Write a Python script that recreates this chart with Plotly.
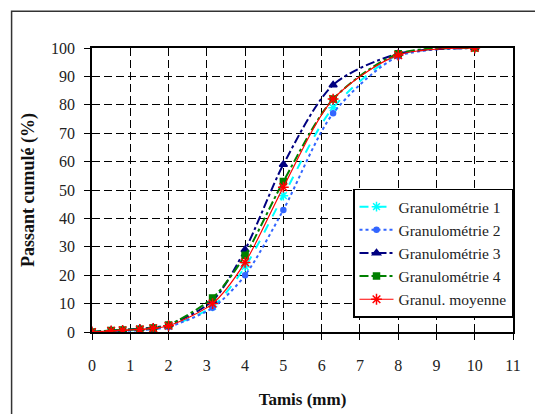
import plotly.graph_objects as go

sieves = [0, 0.5, 0.8, 1.25, 1.6, 2, 3.15, 4, 5, 6.3, 8, 10]
g1 = [0, 0.3, 0.5, 0.8, 1.2, 2.0, 9.0, 23.0, 48.0, 79.0, 97.5, 100]
g2 = [0, 0.2, 0.4, 0.6, 1.0, 1.8, 8.5, 20.0, 43.0, 77.0, 97.0, 100]
g3 = [0, 0.5, 0.8, 1.2, 1.6, 2.5, 11.0, 29.0, 59.0, 87.0, 98.0, 100]
g4 = [0, 0.5, 0.7, 1.0, 1.4, 2.5, 12.0, 27.0, 53.0, 82.0, 98.0, 100]
gm = [0, 0.4, 0.6, 0.9, 1.3, 2.2, 10.0, 24.5, 51.0, 82.0, 97.5, 100]

names = ["Granulométrie 1", "Granulométrie 2", "Granulométrie 3",
         "Granulométrie 4", "Granul. moyenne"]
series = [g1, g2, g3, g4, gm]
colors = ["#00FFFF", "#3366FF", "#000080", "#008000", "#FF0000"]
dashes = ["dash", "dot", "dashdot", "dashdot", "solid"]
widths = [2, 2, 2, 2, 1.2]
symbols = ["asterisk-open", "circle", "triangle-up", "square", "asterisk-open"]
sizes = [8, 5, 7, 6, 9]

fig = go.Figure()
for n, s, c, d, w, sy, sz in zip(names, series, colors, dashes, widths, symbols, sizes):
    fig.add_trace(go.Scatter(
        x=sieves, y=s, name=n, mode="lines+markers",
        line=dict(color=c, dash=d, width=w, shape="spline", smoothing=0.8),
        marker=dict(symbol=sy, size=sz, color=c, line=dict(color=c, width=1.5)),
    ))

font = "Liberation Serif, Times New Roman, serif"
fig.update_layout(
    width=543, height=414,
    margin=dict(l=84, r=38, t=40, b=90, autoexpand=False),
    paper_bgcolor="white", plot_bgcolor="white",
    font=dict(family=font, size=16, color="#222"),
    showlegend=True,
    legend=dict(x=1, y=0.505, xanchor="right", yanchor="top",
                bgcolor="white", bordercolor="black", borderwidth=1.5,
                font=dict(family=font, size=15.5, color="#222"),
                tracegroupgap=0, itemwidth=34),
    xaxis=dict(range=[0, 11], dtick=1, tick0=0,
               showgrid=True, gridcolor="black", griddash="8px,4px", gridwidth=1,
               showline=True, linecolor="black", linewidth=1.5, mirror=True,
               ticks="outside", ticklen=6, tickcolor="black",
               ticklabelstandoff=12,
               zeroline=False, automargin=False,
               title=dict(text="<b>Tamis (mm)</b>", font=dict(size=17, family=font, color="#111"), standoff=20)),
    yaxis=dict(range=[0, 100], dtick=10, tick0=0,
               showgrid=True, gridcolor="black", griddash="8px,4px", gridwidth=1,
               showline=True, linecolor="black", linewidth=1.5, mirror=True,
               ticks="outside", ticklen=6, tickcolor="black",
               ticklabelstandoff=6,
               zeroline=False, automargin=False,
               title=dict(text="<b>Passant cumulé (%)</b>", font=dict(size=18, family=font, color="#111"), standoff=12)),
)
# outer frame around the chart
fig.add_shape(type="rect", xref="paper", yref="paper",
              x0=-0.191, x1=1.2, y0=-0.5, y1=1.129,
              line=dict(color="#333", width=1.5), layer="below")

fig.write_html("out.html")
